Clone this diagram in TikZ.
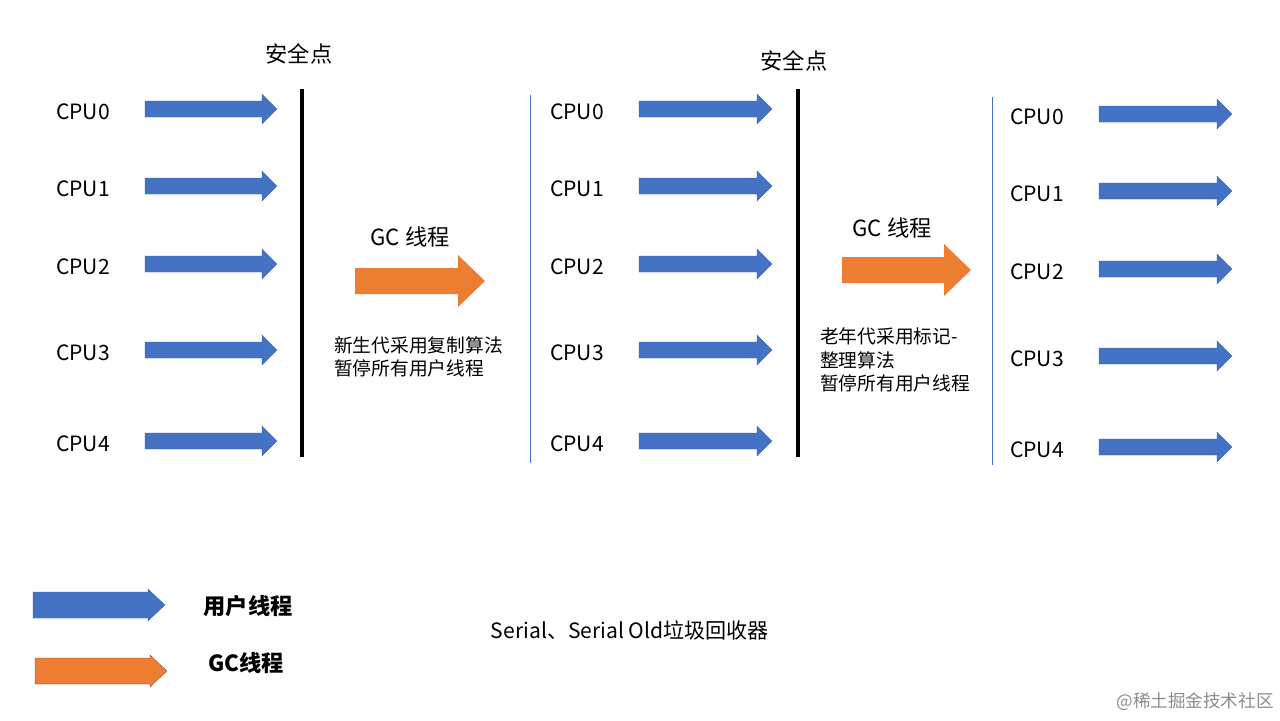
\documentclass[tikz,border=0pt]{standalone}
\usepackage{fontspec}
\setmainfont{Noto Sans CJK SC}
\definecolor{userblue}{RGB}{68,114,196}
\definecolor{gcorange}{RGB}{237,125,49}
\begin{document}
\begin{tikzpicture}[
  x=0.03cm, y=-0.03cm,
  label/.style={font=\fontsize{18}{21}\selectfont},
  note/.style={font=\fontsize{16}{20}\selectfont, align=left, anchor=west},
  safe/.style={line width=3pt, black},
  border/.style={thin, userblue},
  user/.style={fill=userblue, draw=userblue!80!black, very thin},
  gc/.style={fill=gcorange}
]
\useasboundingbox (0,0) rectangle (1280,720);
%block arrow: start x, end x, centre y, half body, half head, head length
\newcommand{\blockarrow}[7]{%
  \fill[#7] (#1,#3-#4) -- (#2-#6,#3-#4) -- (#2-#6,#3-#5) -- (#2,#3)
    -- (#2-#6,#3+#5) -- (#2-#6,#3+#4) -- (#1,#3+#4) -- cycle;}

%user threads
\foreach \y [count=\i from 0] in {109,186,264,350,441} {
  \node[label] (cpuA\i) at (83,\y+3) {CPU\i};
  \blockarrow{145}{277}{\y}{8}{15}{15}{user}
  \node[label] (cpuB\i) at (577,\y+3) {CPU\i};
  \blockarrow{639}{772}{\y}{8}{15}{15}{user}
}
\foreach \y [count=\i from 0] in {114,191,269,356,447} {
  \node[label] (cpuC\i) at (1037,\y+3) {CPU\i};
  \blockarrow{1099}{1232}{\y}{8}{15}{15}{user}
}

%safe points
\draw[safe] (302,89) -- (302,457);
\draw[safe] (798,89) -- (798,457);
\draw[border] (530,95) -- (530,463);
\draw[border] (992,97) -- (992,465);
\node[label, font=\fontsize{19}{22}\selectfont] (safeA) at (299,54) {安全点};
\node[label, font=\fontsize{19}{22}\selectfont] (safeB) at (794,61) {安全点};

%gc threads
\node[label, font=\fontsize{19}{22}\selectfont] (gcA) at (410,237) {GC 线程};
\blockarrow{355}{485}{281}{13}{26}{27}{gc}
\node[note] (noteA) at (330,357) {新生代采用复制算法\\暂停所有用户线程};
\node[label, font=\fontsize{19}{22}\selectfont] (gcB) at (892,228) {GC 线程};
\blockarrow{842}{971}{270}{13}{26}{27}{gc}
\node[note] (noteB) at (816,360) {老年代采用标记-\\整理算法\\暂停所有用户线程};

%legend
\blockarrow{33}{165}{605}{13}{16}{17}{user}
\node[label, font=\fontsize{19}{22}\selectfont\bfseries] (legUser) at (248,606) {用户线程};
\blockarrow{35}{167}{671}{13}{16}{17}{gc, draw=black!70, very thin}
\node[label, font=\fontsize{19}{22}\selectfont\bfseries] (legGC) at (246,663) {GC线程};
\node[label] (title) at (630,630) {Serial、Serial Old垃圾回收器};
\node[font=\fontsize{15}{17}\selectfont, text=black!45] (mark) at (1195,702) {@稀土掘金技术社区};
\end{tikzpicture}
\end{document}
